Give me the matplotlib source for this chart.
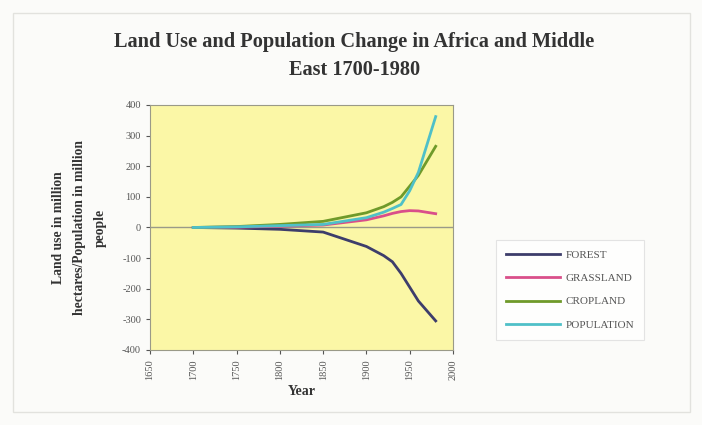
import numpy as np
import matplotlib.pyplot as plt
from matplotlib.patches import Rectangle

years = [1700, 1750, 1800, 1850, 1900, 1920, 1930, 1940, 1950, 1960, 1980]
forest = [0, -2, -6, -15, -62, -92, -112, -150, -195, -240, -305]
grassland = [0, 1, 4, 8, 25, 38, 46, 52, 55, 54, 45]
cropland = [0, 3, 10, 20, 48, 68, 82, 100, 135, 170, 265]
population = [0, 2, 6, 10, 32, 50, 62, 75, 120, 180, 362]

series_names = ['FOREST', 'GRASSLAND', 'CROPLAND', 'POPULATION']
series_colors = ['#3d3d6b', '#d94f8a', '#6f9a2a', '#4fc0c8']

plt.rcParams['font.family'] = ['Liberation Serif', 'DejaVu Serif']
plt.rcParams['axes.unicode_minus'] = False

fig = plt.figure(figsize=(7.02, 4.25), dpi=100)
fig.patch.set_facecolor('#fbfbf9')
fig.add_artist(Rectangle((0.018, 0.03), 0.965, 0.94, transform=fig.transFigure,
                         fill=False, edgecolor='#e2e2de', linewidth=1))

ax = fig.add_axes([0.2137, 0.1765, 0.4316, 0.5765])
ax.set_facecolor('#fbf7a6')

for vals, name, col in zip([forest, grassland, cropland, population], series_names, series_colors):
    ax.plot(years, vals, color=col, linewidth=2, label=name)

ax.axhline(0, color='#9a9a88', linewidth=1, zorder=1)
ax.set_xlim(1650, 2000)
ax.set_ylim(-400, 400)
ax.set_xticks(np.arange(1650, 2001, 50))
ax.set_yticks(np.arange(-400, 401, 100))
ax.tick_params(axis='x', labelrotation=90, labelsize=7.5, colors='#555555', length=3)
ax.tick_params(axis='y', labelsize=7.5, colors='#555555', length=3)
for sp in ax.spines.values():
    sp.set_color('#9a9a88')

ax.set_xlabel('Year', fontsize=10, fontweight='bold', color='#333333')
ax.set_ylabel('Land use in million\nhectares/Population in million\npeople', fontsize=9.8,
              fontweight='bold', color='#333333', labelpad=11, linespacing=1.8)

fig.text(0.505, 0.868, 'Land Use and Population Change in Africa and Middle\nEast 1700-1980',
         ha='center', va='center', fontsize=14.7, fontweight='bold', color='#333333',
         linespacing=1.55)

leg = ax.legend(loc='lower left', bbox_to_anchor=(1.125, 0.02), fontsize=8, frameon=True,
                fancybox=False, handlelength=4.8, labelspacing=1.2, borderpad=0.9,
                handletextpad=0.5, labelcolor='#555555')
leg.get_frame().set_edgecolor('#dddddd')
leg.get_frame().set_linewidth(0.8)

fig.savefig('out.png', dpi=100, facecolor=fig.get_facecolor())
